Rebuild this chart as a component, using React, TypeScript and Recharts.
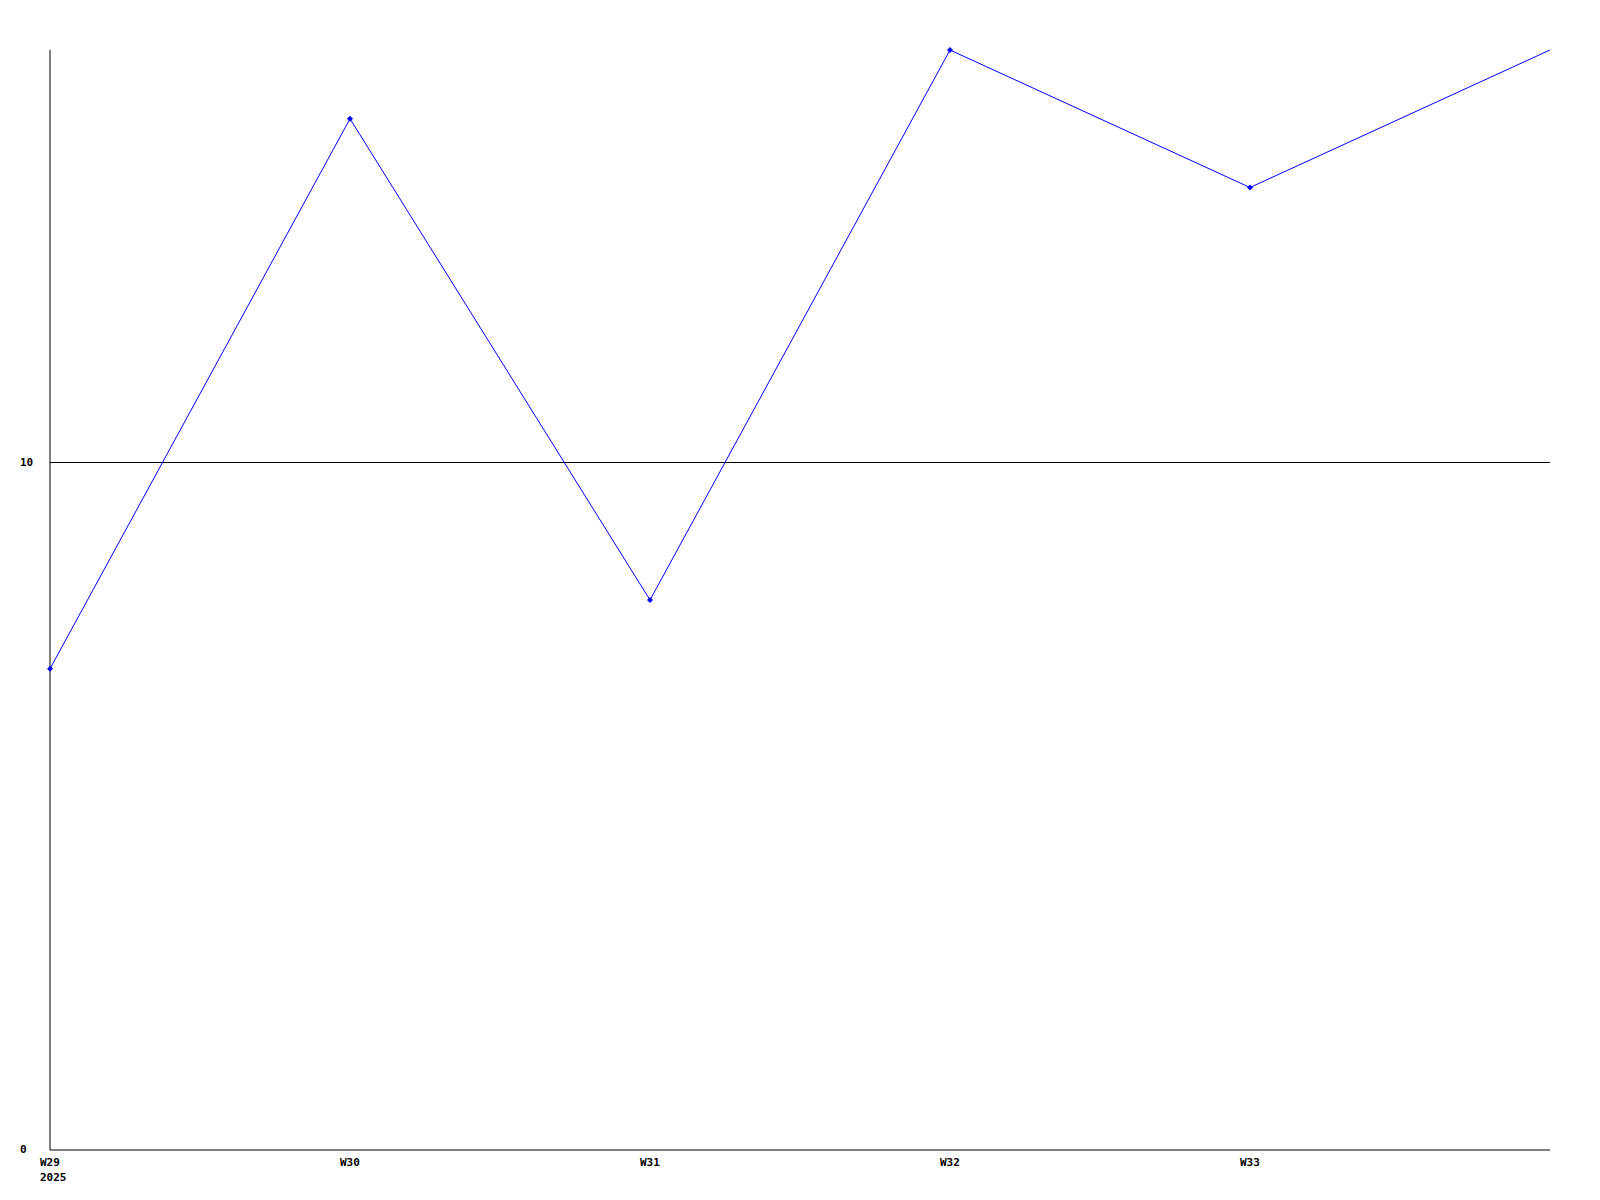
import { Line, LineChart, ReferenceLine, XAxis, YAxis } from "recharts";

const weeks = ["W29", "W30", "W31", "W32", "W33", "W34"];
const values = [7, 15, 8, 16, 14, 16];
const yTicks = [0, 10];
const yearLabel = "2025";

const chartData = weeks.map((week, i) => ({ week, value: values[i] }));

const font = "'DejaVu Sans Mono', monospace";

function WeekTick(props: any) {
  const { x, y, payload, index } = props;
  if (index === weeks.length - 1) return null;
  return (
    <g>
      <text x={x - 10} y={y + 8} textAnchor="start" fontFamily={font} fontWeight="bold" fontSize={11} fill="#000">
        {payload.value}
      </text>
      {index === 0 && (
        <text x={x - 10} y={y + 23} textAnchor="start" fontFamily={font} fontWeight="bold" fontSize={11} fill="#000">
          {yearLabel}
        </text>
      )}
    </g>
  );
}

function ValueTick(props: any) {
  const { y, payload } = props;
  return (
    <text x={20} y={y + 3} textAnchor="start" fontFamily={font} fontWeight="bold" fontSize={11} fill="#000">
      {payload.value}
    </text>
  );
}

function PointDot(props: any) {
  const { cx, cy, index } = props;
  if (index === weeks.length - 1) return <g key={index} />;
  return (
    <path
      key={index}
      d={`M${cx},${cy - 3}L${cx + 3},${cy}L${cx},${cy + 3}L${cx - 3},${cy}Z`}
      fill="#0000ff"
      stroke="none"
    />
  );
}

export default function App() {
  return (
    <div style={{ position: "absolute", left: 0, top: 0, width: 1600, height: 1200, background: "#fff" }}>
      <LineChart width={1600} height={1200} data={chartData} margin={{ top: 50, right: 50, bottom: 0, left: 0 }}>
        <XAxis
          dataKey="week"
          interval={0}
          height={50}
          tickLine={false}
          axisLine={{ stroke: "#000" }}
          tick={<WeekTick />}
        />
        <YAxis
          domain={[0, 16]}
          ticks={yTicks}
          width={50}
          tickLine={false}
          axisLine={{ stroke: "#000" }}
          tick={<ValueTick />}
        />
        <ReferenceLine y={10} stroke="#000" strokeWidth={1} />
        <Line
          type="linear"
          dataKey="value"
          stroke="#0000ff"
          strokeWidth={1}
          dot={<PointDot />}
          activeDot={false}
          isAnimationActive={false}
        />
      </LineChart>
    </div>
  );
}
